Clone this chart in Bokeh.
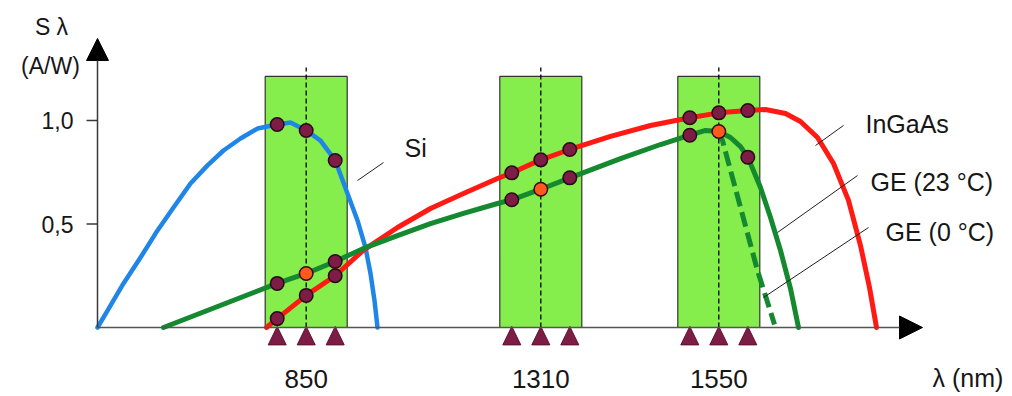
from bokeh.plotting import figure
from bokeh.models import Range1d, Arrow, NormalHead
from bokeh.core.properties import value
from bokeh.embed import file_html
from bokeh.resources import INLINE

# ---------------- data (x: schematic wavelength position, origin at y axis; y: responsivity A/W)
band_labels = ["850", "1310", "1550"]
band_center = [208.7, 443.3, 621.3]
band_halfwidth = 41.0
band_top = 1.213

si_x = [0, 10, 26, 43, 60, 76, 93, 110, 126, 143, 160, 179.7, 193, 208.7, 223, 237.7, 250, 260, 268, 273,
        277, 280]
si_y = [0, 0.082, 0.213, 0.338, 0.469, 0.580, 0.696, 0.783, 0.855, 0.913, 0.961, 0.981, 0.990, 0.952,
        0.903, 0.807, 0.647, 0.517, 0.386, 0.261, 0.130, 0]

ingaas_x = [169, 179.7, 208.7, 237.7, 266, 300, 333, 366, 400, 414.3, 443.3, 472.3, 513, 553, 592.3, 621.3,
            650.3, 668, 688, 703, 720, 736, 751, 763, 772, 779]
ingaas_y = [0, 0.043, 0.155, 0.250, 0.374, 0.483, 0.575, 0.647, 0.720, 0.747, 0.810, 0.860, 0.923, 0.976,
            1.013, 1.037, 1.048, 1.053, 1.034, 0.995, 0.918, 0.792, 0.614, 0.396, 0.193, 0]

ge23_x = [66, 179.7, 208.7, 237.7, 266, 300, 333, 366, 400, 414.3, 443.3, 472.3, 523, 563, 592.3, 608,
          621.3, 633, 643, 650.3, 663, 673, 683, 693, 701]
ge23_y = [0, 0.213, 0.261, 0.319, 0.382, 0.444, 0.502, 0.551, 0.599, 0.617, 0.668, 0.723, 0.816, 0.884,
          0.929, 0.952, 0.947, 0.918, 0.874, 0.823, 0.676, 0.531, 0.372, 0.188, 0]

ge0_x = [621.3, 625, 643, 660, 677]
ge0_y = [0.947, 0.903, 0.580, 0.275, 0.015]

dot_x = [179.7, 208.7, 237.7, 179.7, 208.7, 237.7, 179.7, 208.7, 237.7,
         414.3, 443.3, 472.3, 414.3, 443.3, 472.3,
         592.3, 621.3, 650.3, 592.3, 621.3, 650.3]
dot_y = [0.981, 0.952, 0.807, 0.213, 0.261, 0.319, 0.043, 0.155, 0.250,
         0.747, 0.810, 0.860, 0.617, 0.668, 0.723,
         1.013, 1.037, 1.048, 0.929, 0.947, 0.823]
dot_ref = [False, False, False, False, True, False, False, False, False,
           False, False, False, False, True, False,
           False, False, False, False, True, False]

marker_x = [179.7, 208.7, 237.7, 414.3, 443.3, 472.3, 592.3, 621.3, 650.3]

ytick_vals = [1.0, 0.5]
ytick_labels = ["1,0", "0,5"]

curve_names = ["Si", "InGaAs", "GE (23 °C)", "GE (0 °C)"]
name_x = [307, 768, 773, 788]
name_y = [0.865, 0.981, 0.705, 0.459]
leader_x0 = [260, 718, 680, 666]
leader_y0 = [0.710, 0.879, 0.459, 0.145]
leader_x1 = [286, 746, 760, 771]
leader_y1 = [0.797, 0.976, 0.734, 0.483]

# ---------------- styles
FONT = value("Liberation Sans")
TXT = "#161616"
BAND = "#86ee4c"
BLUE = "#1f86e8"
RED = "#ff1a14"
GREEN = "#15892f"
MAROON = "#7d1c45"

p = figure(width=1012, height=396, x_range=Range1d(-97, 915), y_range=Range1d(-69 / 207, 327 / 207),
           output_backend="svg", toolbar_location=None, min_border=0,
           x_axis_location=None, y_axis_location=None)
p.outline_line_color = None
p.grid.grid_line_color = None
p.background_fill_color = "white"
p.border_fill_color = "white"

# bands
p.quad(left=[c - band_halfwidth for c in band_center], right=[c + band_halfwidth for c in band_center],
       bottom=0, top=band_top, fill_color=BAND, line_color="#333333", line_width=1.2)

# curves
p.line(si_x, si_y, line_color=BLUE, line_width=4.5, line_join="round", line_cap="round")
p.line(ingaas_x, ingaas_y, line_color=RED, line_width=5, line_join="round", line_cap="round")
p.line(ge23_x, ge23_y, line_color=GREEN, line_width=5, line_join="round", line_cap="round")
p.line(ge0_x, ge0_y, line_color=GREEN, line_width=5, line_dash="15 6")

# band centre dashed lines
p.multi_line(xs=[[c, c] for c in band_center], ys=[[0, 1.256] for _ in band_center],
             line_color="black", line_width=1.3, line_dash="5 3")

# dots
nx = [x for x, r in zip(dot_x, dot_ref) if not r]
ny = [y for y, r in zip(dot_y, dot_ref) if not r]
rx = [x for x, r in zip(dot_x, dot_ref) if r]
ry = [y for y, r in zip(dot_y, dot_ref) if r]
p.scatter(nx, ny, size=13.5, fill_color=MAROON, line_color="#2a0a18", line_width=1.5)
p.scatter(rx, ry, size=13.5, fill_color="#ff5a1e", line_color="#3a0a10", line_width=1.5)

# triangles (channel markers)
tw, ttop, tbot = 9, 0.005, -0.084
p.patches(xs=[[m - tw, m, m + tw] for m in marker_x], ys=[[tbot, ttop, tbot] for _ in marker_x],
          fill_color=MAROON, line_color="#5a1030", line_width=1)

# axes
p.add_layout(Arrow(x_start=0, y_start=0, x_end=0, y_end=1.396, line_color="#3a3a3a", line_width=1.5,
                   end=NormalHead(size=22, fill_color="black", line_color="black", line_width=1)))
p.add_layout(Arrow(x_start=0, y_start=0, x_end=825, y_end=0, line_color="#555555", line_width=1.5,
                   end=NormalHead(size=23, fill_color="black", line_color="black", line_width=1)))
p.multi_line(xs=[[-11, 0] for _ in ytick_vals], ys=[[v, v] for v in ytick_vals], line_color="#3a3a3a",
             line_width=1.5)
p.text(x=[-24] * len(ytick_vals), y=ytick_vals, text=ytick_labels, text_font=FONT,
       text_font_size=value("23px"), text_align="right", text_baseline="middle", text_color=TXT)

# x labels
p.text(x=band_center, y=[-0.251] * 3, text=band_labels, text_font=FONT, text_font_size=value("26px"),
       text_align="center", text_baseline="middle", text_color=TXT)
p.text(x=[835], y=[-0.242], text=["λ (nm)"], text_font=FONT, text_font_size=value("25px"),
       text_align="left", text_baseline="middle", text_color=TXT)

# y label
p.text(x=[-46], y=[1.452], text=["S λ"], text_font=FONT, text_font_size=value("23px"),
       text_align="center", text_baseline="middle", text_color=TXT)
p.text(x=[-47], y=[1.263], text=["(A/W)"], text_font=FONT, text_font_size=value("23px"),
       text_align="center", text_baseline="middle", text_color=TXT)

# curve names + leaders
p.segment(x0=leader_x0, y0=leader_y0, x1=leader_x1, y1=leader_y1, line_color="#222222", line_width=1)
p.text(x=name_x, y=name_y, text=curve_names, text_font=FONT, text_font_size=value("25px"),
       text_align="left", text_baseline="middle", text_color=TXT)

open("out.html", "w").write(file_html(p, INLINE))
